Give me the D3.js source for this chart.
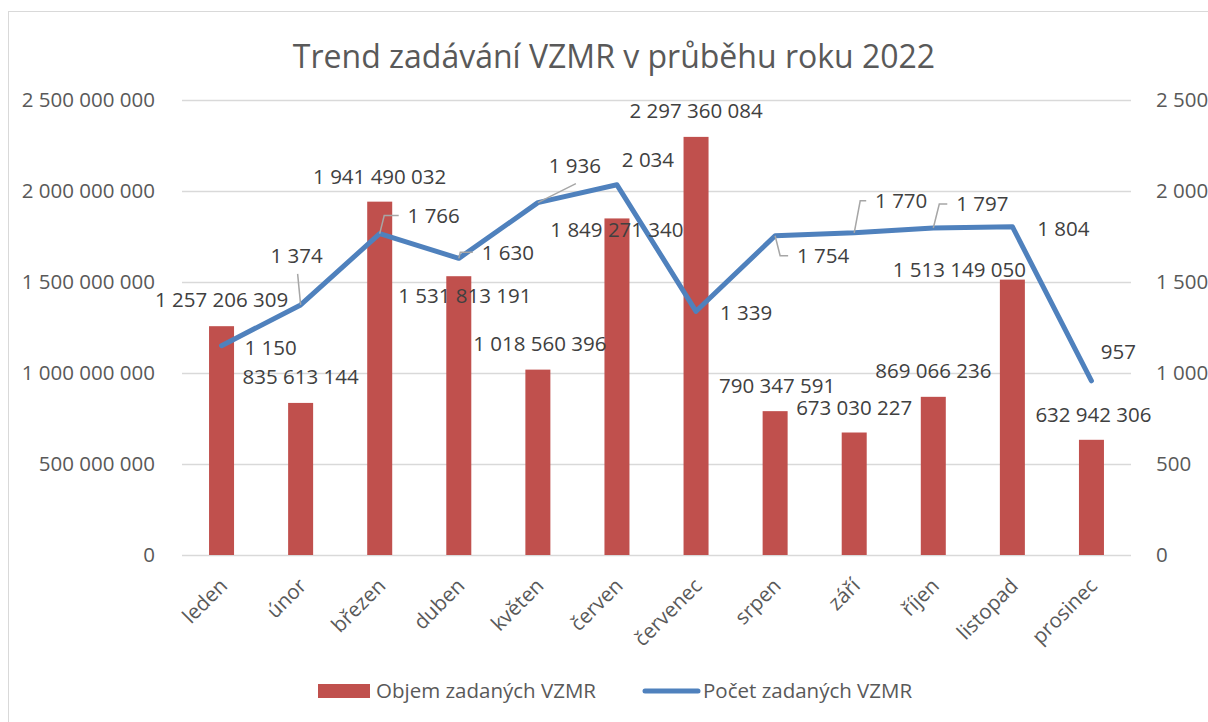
<!DOCTYPE html>
<html>
<head>
<meta charset="utf-8">
<script src="https://cdn.jsdelivr.net/npm/d3@7"></script>
<style>
  body { margin: 0; background: #fff; }
  svg { display: block; font-family: 'Open Sans', sans-serif; }
</style>
</head>
<body>
<div id="chart"></div>
<script>
const months = ['leden', 'únor', 'březen', 'duben', 'květen', 'červen', 'červenec', 'srpen', 'září', 'říjen', 'listopad', 'prosinec'];
const objem = [1257206309, 835613144, 1941490032, 1531813191, 1018560396, 1849271340, 2297360084, 790347591, 673030227, 869066236, 1513149050, 632942306];
const pocet = [1150, 1374, 1766, 1630, 1936, 2034, 1339, 1754, 1770, 1797, 1804, 957];
const leftTicks = [0, 500000000, 1000000000, 1500000000, 2000000000, 2500000000];
const rightTicks = [0, 500, 1000, 1500, 2000, 2500];

// label placement tweaks (like the manually dragged labels in the original)
const barLabelShift = [[0, -26], [0, -26], [0, -25], [6, 20], [2, -26], [0, 11], [0, -26], [2, -25], [0, -25], [0, -26], [-53, -10], [2, -25]];
const lineLabelShift = [[49, 2], [-4, -49], [54, -18], [49, -6], [37, -37], [31, -25], [50, 2], [48, 20], [47, -32], [49, -24], [51, 2], [27, -29]];
const lineLeader = ['', 'straight', 'elbow', 'elbow', 'straight', '', '', 'elbow', 'elbow', 'elbow', '', ''];

const width = 1208;
const height = 722;
const plot = { left: 182, right: 1131, top: 100, bottom: 555 };
const textColor = '#595959';
const fmt = v => d3.format(',')(v).replace(/,/g, ' ');

const svg = d3.select('#chart').append('svg')
    .attr('width', width)
    .attr('height', height);

svg.append('rect')
    .attr('x', 8.5)
    .attr('y', 11.5)
    .attr('width', width)
    .attr('height', height)
    .attr('fill', '#fff')
    .attr('stroke', '#d9d9d9');

// Title
svg.append('text')
    .text('Trend zadávání VZMR v průběhu roku 2022')
    .attr('x', 614)
    .attr('y', 68)
    .attr('text-anchor', 'middle')
    .attr('fill', textColor)
    .style('font-size', '32px');

const x = d3.scaleBand(months, [plot.left, plot.right]);
const yLeft = d3.scaleLinear([0, 2500000000], [plot.bottom, plot.top]);
const yRight = d3.scaleLinear([0, 2500], [plot.bottom, plot.top]);
const barWidth = 25;
const cx = m => x(m) + x.bandwidth() / 2;

// Gridlines
svg.append('g')
    .selectAll('line')
    .data(leftTicks)
    .join('line')
    .attr('x1', plot.left)
    .attr('x2', plot.right)
    .attr('y1', d => Math.round(yLeft(d)) + 0.5)
    .attr('y2', d => Math.round(yLeft(d)) + 0.5)
    .attr('stroke', '#d9d9d9')
    .attr('stroke-width', 1.5);

// Axes
const leftAxis = svg.append('g')
    .attr('transform', `translate(${plot.left - 24}, 0)`)
    .call(d3.axisLeft(yLeft).tickValues(leftTicks).tickFormat(fmt).tickSize(0));

const rightAxis = svg.append('g')
    .attr('transform', `translate(${plot.right + 22}, 0)`)
    .call(d3.axisRight(yRight).tickValues(rightTicks).tickFormat(fmt).tickSize(0));

const xAxis = svg.append('g')
    .attr('transform', `translate(0, ${plot.bottom})`)
    .call(d3.axisBottom(x).tickSize(0));

[leftAxis, rightAxis, xAxis].forEach(g => {
  g.select('.domain').remove();
  g.selectAll('text')
      .attr('fill', textColor)
      .style('font-size', '20.5px')
      .style('font-family', "'Open Sans', sans-serif");
});

xAxis.selectAll('text')
    .attr('text-anchor', 'end')
    .attr('dy', '0.35em')
    .attr('y', 0)
    .attr('transform', 'translate(2, 27) rotate(-45)');

// Bars
svg.append('g')
    .selectAll('rect')
    .data(objem)
    .join('rect')
    .attr('x', (d, i) => cx(months[i]) - barWidth / 2)
    .attr('y', d => yLeft(d))
    .attr('width', barWidth)
    .attr('height', d => plot.bottom - yLeft(d))
    .attr('fill', '#c0504d');

// Line
const points = pocet.map((d, i) => [cx(months[i]), yRight(d)]);

svg.append('path')
    .attr('d', d3.line()(points))
    .attr('fill', 'none')
    .attr('stroke', '#4f81bd')
    .attr('stroke-width', 5)
    .attr('stroke-linejoin', 'round')
    .attr('stroke-linecap', 'round');

// Leader lines for line labels
const leaders = svg.append('g')
    .attr('fill', 'none')
    .attr('stroke', '#a6a6a6')
    .attr('stroke-width', 1.5);

const labelSize = 20.5;

points.forEach(([px, py], i) => {
  const [dx, dy] = lineLabelShift[i];
  const lx = px + dx;
  const ly = py + dy;
  const half = fmt(pocet[i]).length * 5.2;
  if (lineLeader[i] === 'straight') {
    leaders.append('path').attr('d', `M${px},${py}L${lx + 1},${ly + 18}`);
  } else if (lineLeader[i] === 'elbow') {
    const ex = lx - half - 9;
    const sx = px + Math.min(6, Math.abs(dy) / 4);
    leaders.append('path').attr('d', `M${px},${py}L${sx},${ly}L${ex},${ly}`);
  }
});

// Bar labels
svg.append('g')
    .selectAll('text')
    .data(objem)
    .join('text')
    .text(d => fmt(d))
    .attr('x', (d, i) => cx(months[i]) + barLabelShift[i][0])
    .attr('y', (d, i) => yLeft(d) + barLabelShift[i][1])
    .attr('dy', '0.35em')
    .attr('text-anchor', 'middle')
    .attr('fill', '#404040')
    .style('font-size', labelSize + 'px');

// Line labels
svg.append('g')
    .selectAll('text')
    .data(pocet)
    .join('text')
    .text(d => fmt(d))
    .attr('x', (d, i) => points[i][0] + lineLabelShift[i][0])
    .attr('y', (d, i) => points[i][1] + lineLabelShift[i][1])
    .attr('dy', '0.35em')
    .attr('text-anchor', 'middle')
    .attr('fill', '#404040')
    .style('font-size', labelSize + 'px');

// Legend
const legend = svg.append('g')
    .attr('transform', 'translate(0, 691)');

legend.append('rect')
    .attr('x', 318)
    .attr('y', -7)
    .attr('width', 52)
    .attr('height', 14)
    .attr('fill', '#c0504d');

legend.append('text')
    .text('Objem zadaných VZMR')
    .attr('x', 376)
    .attr('dy', '0.35em')
    .attr('fill', textColor)
    .style('font-size', '20.5px');

legend.append('line')
    .attr('x1', 645)
    .attr('x2', 698)
    .attr('stroke', '#4f81bd')
    .attr('stroke-width', 5)
    .attr('stroke-linecap', 'round');

legend.append('text')
    .text('Počet zadaných VZMR')
    .attr('x', 703)
    .attr('dy', '0.35em')
    .attr('fill', textColor)
    .style('font-size', '20.5px');
</script>
</body>
</html>
